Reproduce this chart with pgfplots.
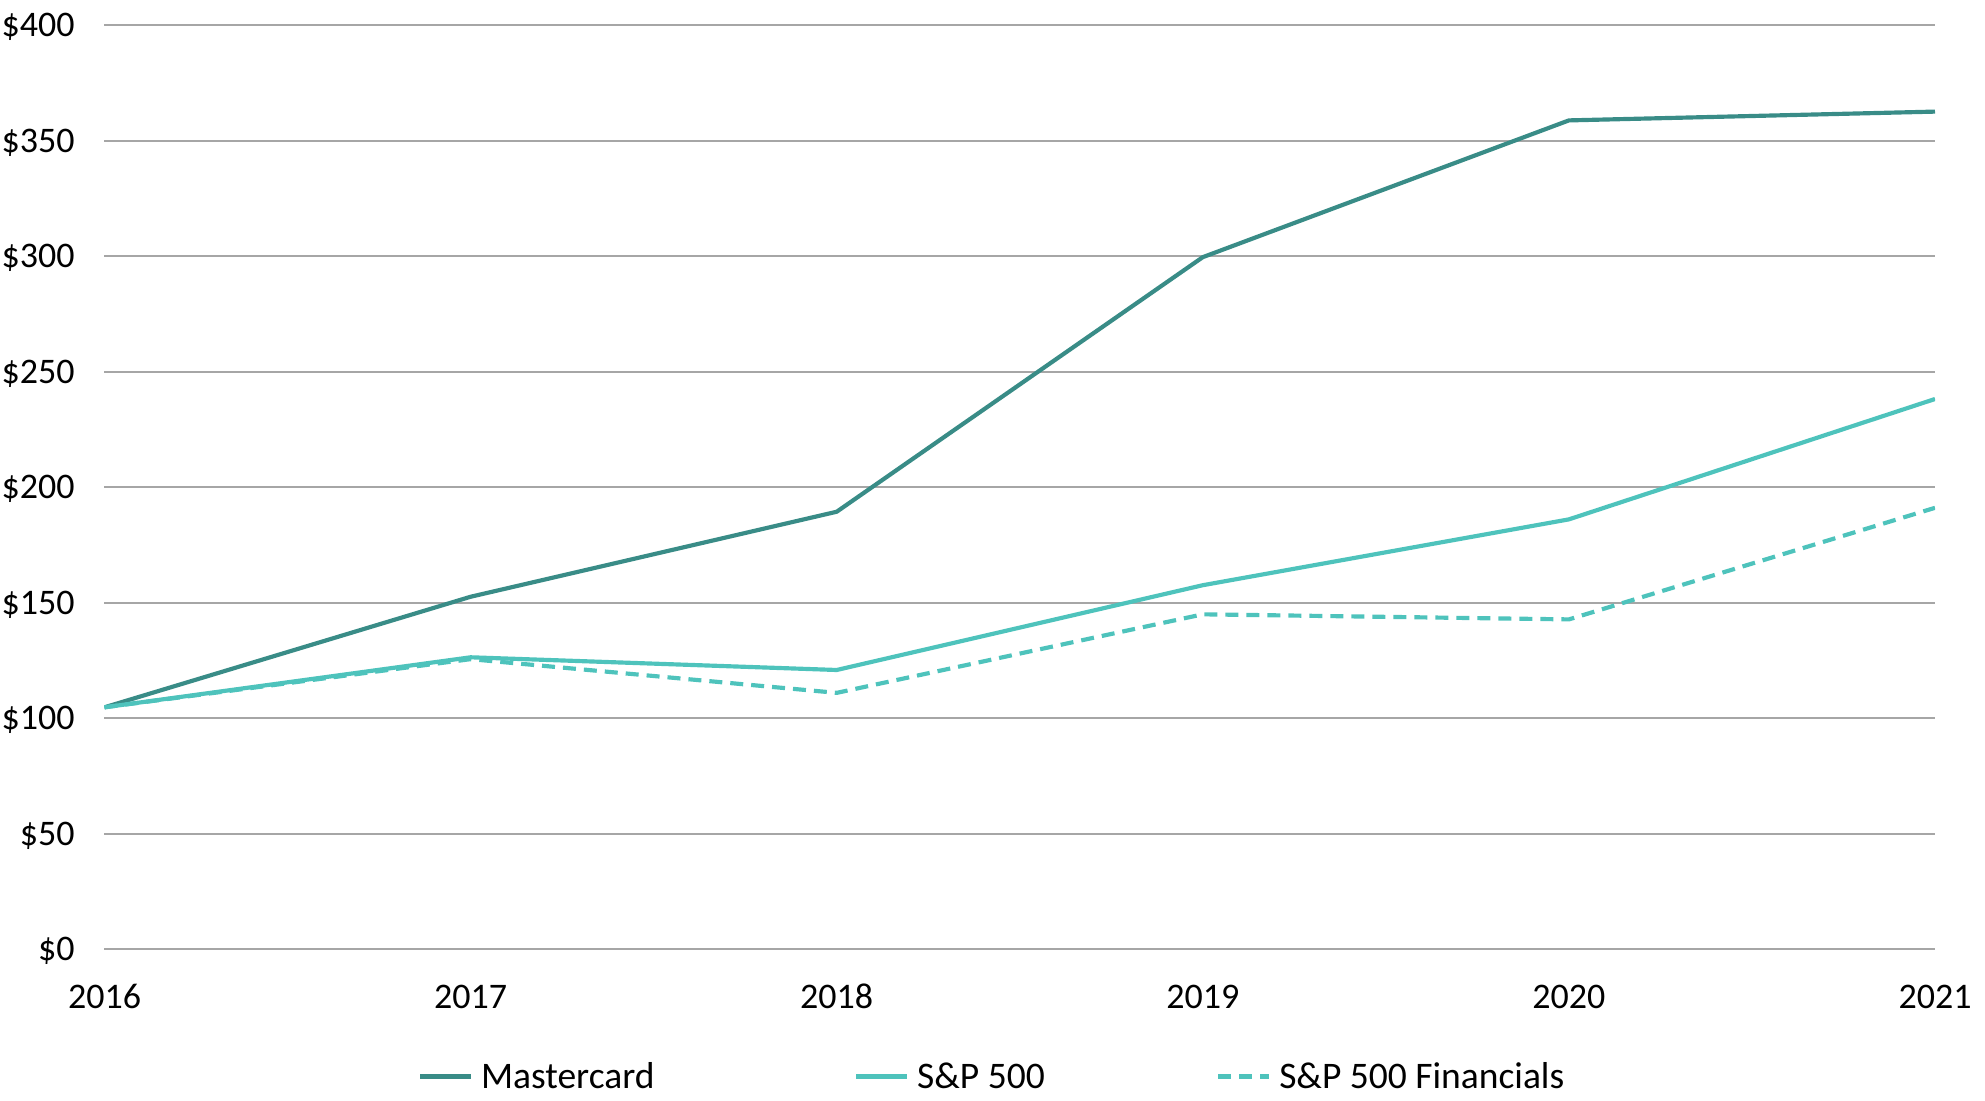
\documentclass[border=0pt]{standalone}
\usepackage{fontspec}
\setmainfont{Carlito}
\usepackage{pgfplots}
\pgfplotsset{compat=1.18}
\definecolor{mc}{HTML}{398C87}
\definecolor{sp}{HTML}{4EC3BC}
\definecolor{gridc}{HTML}{A6A6A6}
\begin{document}
\begin{tikzpicture}
\path[use as bounding box] (-31.35pt,-45.21pt) rectangle (564.15pt,284.79pt);
\begin{axis}[
  scale only axis,
  width=549.15pt, height=277.23pt,
  xmin=2016, xmax=2021, ymin=0, ymax=400,
  xtick={2016,2017,2018,2019,2020,2021},
  ytick={0,50,100,150,200,250,300,350,400},
  axis line style={draw=none},
  major tick length=0pt,
  ymajorgrids=true,
  major grid style={color=gridc, line width=0.55pt},
  /pgf/number format/assume math mode=true,
  /pgf/number format/1000 sep={},
  yticklabel={\$\pgfmathprintnumber{\tick}},
  yticklabel style={font=\fontsize{10.8}{13}\selectfont, anchor=base east, inner sep=0pt, xshift=-8.8pt, yshift=-3.4pt},
  xticklabel style={font=\fontsize{10.8}{13}\selectfont, anchor=base, inner sep=0pt, yshift=-17.7pt},
  legend style={
    at={(axis description cs:0.17110,-0.13765)}, anchor=west,
    draw=none, fill=none, inner sep=0pt, outer sep=0pt,
    font=\fontsize{11.25}{13.5}\selectfont,
    nodes={inner sep=0pt, text height=7.25pt, text depth=0pt},
    cells={anchor=base west},
  },
  legend columns=3,
  legend image code/.code={
    \draw[#1, line width=1.4pt] (0pt,3.6pt) -- (15.2pt,3.6pt);
    \path (17.7pt,3.6pt);
  },
]
\addplot[color=mc, line width=1.25pt, line join=round] coordinates {
  (2016,104.75) (2017,152.6) (2018,189.4) (2019,299.6) (2020,358.8) (2021,362.6)
};
\addlegendentry{\makebox[111.8pt][l]{Mastercard}}
\addplot[color=sp, line width=1.25pt, line join=round] coordinates {
  (2016,104.75) (2017,126.4) (2018,120.9) (2019,157.6) (2020,186.1) (2021,238.2)
};
\addlegendentry{\makebox[89.6pt][l]{S\&P 500}}
\addplot[color=sp, line width=1.25pt, line join=round, dash pattern=on 3.9pt off 2.4pt] coordinates {
  (2016,104.75) (2017,125.6) (2018,111.0) (2019,145.0) (2020,142.8) (2021,191.1)
};
\addlegendentry{S\&P 500 Financials}
\end{axis}
\end{tikzpicture}
\end{document}
